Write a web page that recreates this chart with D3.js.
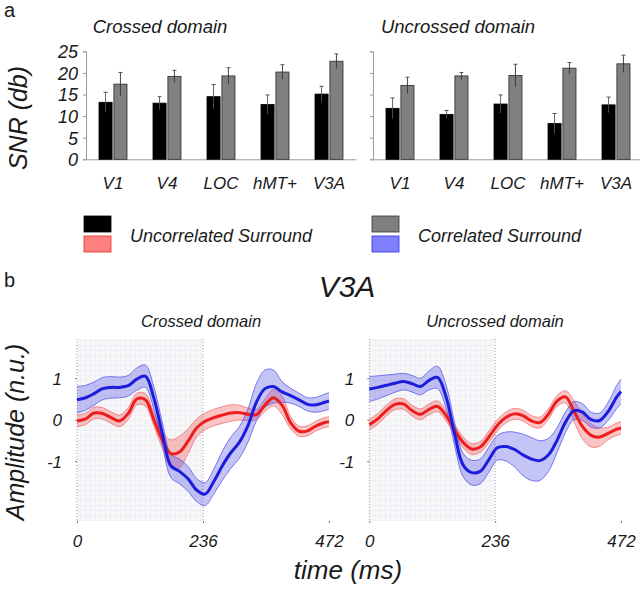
<!DOCTYPE html>
<html>
<head>
<meta charset="utf-8">
<script src="https://cdn.jsdelivr.net/npm/d3@7"></script>
<style>
  body { margin: 0; background: #fff; }
  svg { display: block; font-family: "Liberation Sans", Arial, sans-serif; }
  .it { font-style: italic; }
</style>
</head>
<body>
<svg id="fig" width="640" height="592"></svg>
<script>
// ---- panel a data (SNR in db) ----
const regions = ["V1", "V4", "LOC", "hMT+", "V3A"];
const snrTicks = [0, 5, 10, 15, 20, 25];
const crossedUncorr = [13.2, 13.0, 14.5, 12.7, 15.1];
const crossedUncorrErr = [2.3, 1.5, 2.8, 2.2, 1.8];
const crossedCorr = [17.4, 19.2, 19.3, 20.2, 22.7];
const crossedCorrErr = [2.7, 1.4, 1.9, 1.7, 1.7];
const uncrossedUncorr = [11.8, 10.4, 12.8, 8.3, 12.6];
const uncrossedUncorrErr = [2.4, 0.9, 2.1, 2.3, 1.8];
const uncrossedCorr = [17.1, 19.3, 19.4, 21.1, 22.1];
const uncrossedCorrErr = [1.9, 0.8, 2.6, 1.3, 2.0];

// ---- panel b data (V3A amplitude, n.u.) ----
const times = [0, 16, 32, 48, 64, 80, 96, 112, 128, 144, 160, 176, 192, 208, 224, 240,
  256, 272, 288, 304, 320, 336, 352, 368, 384, 400, 416, 432, 448, 464, 472];
const timeTicks = [0, 236, 472];
const ampTicks = [1, 0, -1];

const crossedCorrMean = [0.48, 0.53, 0.63, 0.75, 0.78, 0.78, 0.82, 0.98, 1.05, 0.52, -0.35, -1.12,
  -1.25, -1.43, -1.7, -1.8, -1.5, -1.12, -0.8, -0.55, -0.15, 0.42, 0.75, 0.8, 0.67, 0.58, 0.48,
  0.37, 0.36, 0.42, 0.45];
const crossedCorrSem = [0.32, 0.3, 0.28, 0.27, 0.26, 0.25, 0.25, 0.27, 0.27, 0.27, 0.27, 0.28,
  0.3, 0.3, 0.28, 0.28, 0.3, 0.35, 0.38, 0.38, 0.4, 0.45, 0.45, 0.4, 0.25, 0.18, 0.16, 0.16,
  0.18, 0.2, 0.2];
const crossedUncorrMean = [-0.03, 0.02, 0.16, 0.15, 0.05, -0.03, 0.15, 0.5, 0.48, 0.0, -0.5, -0.82,
  -0.78, -0.52, -0.2, -0.04, 0.05, 0.11, 0.16, 0.17, 0.13, 0.12, 0.35, 0.53, 0.35, -0.07, -0.28,
  -0.27, -0.15, -0.07, -0.05];
const crossedUncorrSem = [0.14, 0.14, 0.14, 0.14, 0.14, 0.14, 0.14, 0.14, 0.15, 0.15, 0.2, 0.33,
  0.38, 0.3, 0.22, 0.2, 0.2, 0.2, 0.2, 0.18, 0.15, 0.12, 0.15, 0.2, 0.22, 0.15, 0.12, 0.12,
  0.12, 0.12, 0.12];
const uncrossedCorrMean = [0.74, 0.78, 0.83, 0.88, 0.92, 0.87, 0.8, 0.95, 1.02, 0.55, -0.35, -1.1,
  -1.28, -1.25, -0.97, -0.68, -0.65, -0.72, -0.85, -0.95, -0.99, -0.85, -0.5, -0.06, 0.22, 0.18,
  0.0, -0.02, 0.2, 0.55, 0.68];
const uncrossedCorrSem = [0.3, 0.28, 0.25, 0.22, 0.2, 0.2, 0.2, 0.23, 0.27, 0.28, 0.28, 0.28,
  0.3, 0.3, 0.3, 0.3, 0.35, 0.42, 0.5, 0.52, 0.48, 0.4, 0.3, 0.25, 0.22, 0.2, 0.18, 0.18,
  0.22, 0.28, 0.3];
const uncrossedUncorrMean = [-0.12, 0.02, 0.22, 0.37, 0.38, 0.22, 0.13, 0.25, 0.32, 0.1, -0.25, -0.55,
  -0.71, -0.66, -0.42, -0.14, 0.05, 0.14, 0.1, -0.03, -0.07, 0.14, 0.45, 0.55, 0.2, -0.17,
  -0.38, -0.42, -0.33, -0.23, -0.2];
const uncrossedUncorrSem = [0.13, 0.13, 0.13, 0.13, 0.13, 0.13, 0.13, 0.13, 0.13, 0.13, 0.13, 0.13,
  0.13, 0.13, 0.14, 0.14, 0.13, 0.13, 0.13, 0.13, 0.13, 0.13, 0.13, 0.15, 0.25, 0.3, 0.28,
  0.22, 0.15, 0.15, 0.15];

const svg = d3.select("#fig");
const textColor = "#1a1a1a";
const axisColor = "#9a9a9a";

// panel letters
svg.append("text").attr("x", 4).attr("y", 17).attr("font-size", 20).attr("fill", textColor).text("a");
svg.append("text").attr("x", 4).attr("y", 287).attr("font-size", 20).attr("fill", textColor).text("b");

// ================= PANEL A =================
const ySnr = d3.scaleLinear().domain([0, 25]).range([159.3, 51.3]);

function barChart(x0, x1, title, titleX, uncorr, uncorrErr, corr, corrErr, showLabels) {
  const g = svg.append("g");
  const xBand = d3.scaleBand().domain(regions).range([x0, x1]);
  const xPair = d3.scaleBand().domain(["u", "c"]).range([-14, 14]).paddingInner(0.12);
  const rows = regions.map((r, i) => ({
    r: r,
    vals: [
      { k: "u", v: uncorr[i], e: uncorrErr[i] },
      { k: "c", v: corr[i], e: corrErr[i] }
    ]
  }));

  // axes
  const yAx = g.append("g").attr("transform", "translate(" + x0 + ",0)")
    .call(d3.axisLeft(ySnr).tickValues(snrTicks).tickSize(3).tickFormat(showLabels ? d3.format("d") : ""));
  yAx.select(".domain").attr("stroke", axisColor);
  yAx.selectAll(".tick line").attr("stroke", axisColor);
  yAx.selectAll("text").attr("class", "it").attr("font-size", 18).attr("fill", textColor)
    .attr("font-family", null).attr("x", -8).attr("dy", "0.36em");

  const xAx = g.append("g").attr("transform", "translate(0," + ySnr(0) + ")")
    .call(d3.axisBottom(xBand).tickSizeOuter(0).tickSize(0));
  xAx.select(".domain").attr("stroke", axisColor);
  xAx.selectAll("text").attr("class", "it").attr("font-size", 17).attr("fill", textColor)
    .attr("font-family", null).attr("y", 17).attr("dy", "0.75em");

  // bars
  const grp = g.selectAll(".grp").data(rows).enter().append("g")
    .attr("transform", d => "translate(" + (xBand(d.r) + xBand.bandwidth() / 2) + ",0)");
  grp.selectAll("rect").data(d => d.vals).enter().append("rect")
    .attr("x", d => xPair(d.k))
    .attr("y", d => ySnr(d.v))
    .attr("width", xPair.bandwidth())
    .attr("height", d => ySnr(0) - ySnr(d.v))
    .attr("fill", d => d.k === "u" ? "#000" : "#808080")
    .attr("stroke", d => d.k === "u" ? "#000" : "#2a2a2a")
    .attr("stroke-width", 0.8);

  // error bars
  const eb = grp.selectAll(".eb").data(d => d.vals).enter().append("g");
  eb.append("line")
    .attr("x1", d => xPair(d.k) + xPair.bandwidth() / 2)
    .attr("x2", d => xPair(d.k) + xPair.bandwidth() / 2)
    .attr("y1", d => ySnr(d.v - d.e))
    .attr("y2", d => ySnr(d.v + d.e))
    .attr("stroke", d => d.k === "u" ? "#555" : "#333").attr("stroke-width", 0.9);
  eb.append("line")
    .attr("x1", d => xPair(d.k) + xPair.bandwidth() / 2 - 2)
    .attr("x2", d => xPair(d.k) + xPair.bandwidth() / 2 + 2)
    .attr("y1", d => ySnr(d.v + d.e))
    .attr("y2", d => ySnr(d.v + d.e))
    .attr("stroke", "#444").attr("stroke-width", 0.9);

  g.append("text").attr("class", "it").attr("x", titleX).attr("y", 33)
    .attr("text-anchor", "middle").attr("font-size", 18.5).attr("fill", textColor).text(title);
}

barChart(86, 356, "Crossed domain", 160, crossedUncorr, crossedUncorrErr, crossedCorr, crossedCorrErr, true);
barChart(373, 643, "Uncrossed domain", 458, uncrossedUncorr, uncrossedUncorrErr, uncrossedCorr, uncrossedCorrErr, false);

svg.append("text").attr("class", "it")
  .attr("transform", "translate(27,118) rotate(-90)")
  .attr("text-anchor", "middle").attr("font-size", 25).attr("fill", textColor).text("SNR (db)");

// ================= LEGEND =================
const legendItems = [
  { label: "Uncorrelated Surround", top: "#000", topStroke: "#000", bot: "#ff7f7f", botStroke: "#e03030", x: 84 },
  { label: "Correlated Surround", top: "#808080", topStroke: "#333", bot: "#7f7fff", botStroke: "#3030e0", x: 372 }
];
const lg = svg.selectAll(".leg").data(legendItems).enter().append("g")
  .attr("transform", d => "translate(" + d.x + ",216)");
lg.append("rect").attr("width", 27).attr("height", 16).attr("fill", d => d.top)
  .attr("stroke", d => d.topStroke).attr("stroke-width", 0.8);
lg.append("rect").attr("y", 20).attr("width", 27).attr("height", 16).attr("fill", d => d.bot)
  .attr("stroke", d => d.botStroke).attr("stroke-width", 0.8);
lg.append("text").attr("class", "it").attr("x", 46).attr("y", 26)
  .attr("font-size", 18).attr("fill", textColor).text(d => d.label);

// ================= PANEL B =================
svg.append("text").attr("class", "it").attr("x", 347).attr("y", 297)
  .attr("text-anchor", "middle").attr("font-size", 30).attr("fill", textColor).text("V3A");

const defs = svg.append("defs");
const pat = defs.append("pattern").attr("id", "grid").attr("width", 5).attr("height", 5)
  .attr("patternUnits", "userSpaceOnUse");
pat.append("rect").attr("width", 5).attr("height", 5).attr("fill", "#f8f8fa");
pat.append("path").attr("d", "M0,0.5H5M0.5,0V5").attr("stroke", "#efeff3").attr("stroke-width", 1);

const yAmp = d3.scaleLinear().domain([-2.45, 1.95]).range([521, 339]);

function timePlot(x0, x1, title, titleX, series) {
  const g = svg.append("g");
  const x = d3.scaleLinear().domain([0, 472]).range([x0, x1]);

  g.append("rect").attr("x", x(0)).attr("y", yAmp(1.95))
    .attr("width", x(236) - x(0)).attr("height", yAmp(-2.45) - yAmp(1.95))
    .attr("fill", "url(#grid)");
  [0, 236].forEach(t => {
    g.append("line").attr("x1", x(t)).attr("x2", x(t))
      .attr("y1", yAmp(1.95)).attr("y2", yAmp(-2.45))
      .attr("stroke", "#8a8a8a").attr("stroke-width", 0.8).attr("stroke-dasharray", "1,2");
  });

  // y ticks
  const yAx = g.append("g").attr("transform", "translate(" + x0 + ",0)")
    .call(d3.axisLeft(yAmp).tickValues(ampTicks).tickSize(2).tickFormat(d3.format("d")));
  yAx.select(".domain").remove();
  yAx.selectAll(".tick line").attr("stroke", "#777");
  yAx.selectAll("text").attr("class", "it").attr("font-size", 17).attr("fill", textColor)
    .attr("font-family", null).attr("x", -15).attr("dy", "0.36em")
    .text(d => d < 0 ? "-" + Math.abs(d) : d);

  // x ticks
  const xAx = g.append("g").attr("transform", "translate(0," + yAmp(-2.45) + ")")
    .call(d3.axisBottom(x).tickValues(timeTicks).tickSize(2).tickFormat(d3.format("d")));
  xAx.select(".domain").remove();
  xAx.selectAll(".tick line").attr("stroke", "#777");
  xAx.selectAll("text").attr("class", "it").attr("font-size", 17).attr("fill", textColor)
    .attr("font-family", null).attr("y", 14).attr("dy", "0.71em");

  const curve = d3.curveCatmullRom.alpha(0.5);
  const area = d3.area().curve(curve)
    .x((d, i) => x(times[i]))
    .y0(d => yAmp(d.m - d.s))
    .y1(d => yAmp(d.m + d.s));
  const line = d3.line().curve(curve)
    .x((d, i) => x(times[i]))
    .y(d => yAmp(d.m));
  const edgeLo = d3.line().curve(curve)
    .x((d, i) => x(times[i])).y(d => yAmp(d.m - d.s));
  const edgeHi = d3.line().curve(curve)
    .x((d, i) => x(times[i])).y(d => yAmp(d.m + d.s));

  series.forEach(s => {
    const pts = s.mean.map((m, i) => ({ m: m, s: s.sem[i] }));
    g.append("path").attr("d", area(pts)).attr("fill", s.fill).attr("fill-opacity", 0.32);
    g.append("path").attr("d", edgeLo(pts)).attr("fill", "none").attr("stroke", s.edge).attr("stroke-width", 0.8);
    g.append("path").attr("d", edgeHi(pts)).attr("fill", "none").attr("stroke", s.edge).attr("stroke-width", 0.8);
  });
  series.forEach(s => {
    const pts = s.mean.map((m, i) => ({ m: m, s: s.sem[i] }));
    g.append("path").attr("d", line(pts)).attr("fill", "none").attr("stroke", s.color).attr("stroke-width", 3);
  });

  g.append("text").attr("class", "it").attr("x", titleX).attr("y", 327)
    .attr("text-anchor", "middle").attr("font-size", 16.5).attr("fill", textColor).text(title);
}

timePlot(77, 329, "Crossed domain", 201, [
  { mean: crossedUncorrMean, sem: crossedUncorrSem, color: "#ee1c1c", fill: "#f04646", edge: "#f07070" },
  { mean: crossedCorrMean, sem: crossedCorrSem, color: "#1c1cdc", fill: "#4646e6", edge: "#5a5ae8" }
]);
timePlot(369.3, 621, "Uncrossed domain", 495, [
  { mean: uncrossedUncorrMean, sem: uncrossedUncorrSem, color: "#ee1c1c", fill: "#f04646", edge: "#f07070" },
  { mean: uncrossedCorrMean, sem: uncrossedCorrSem, color: "#1c1cdc", fill: "#4646e6", edge: "#5a5ae8" }
]);

svg.append("text").attr("class", "it")
  .attr("transform", "translate(24,432) rotate(-90)")
  .attr("text-anchor", "middle").attr("font-size", 25).attr("fill", textColor).text("Amplitude (n.u.)");

svg.append("text").attr("class", "it").attr("x", 348).attr("y", 579)
  .attr("text-anchor", "middle").attr("font-size", 26).attr("fill", textColor).text("time (ms)");
</script>
</body>
</html>
